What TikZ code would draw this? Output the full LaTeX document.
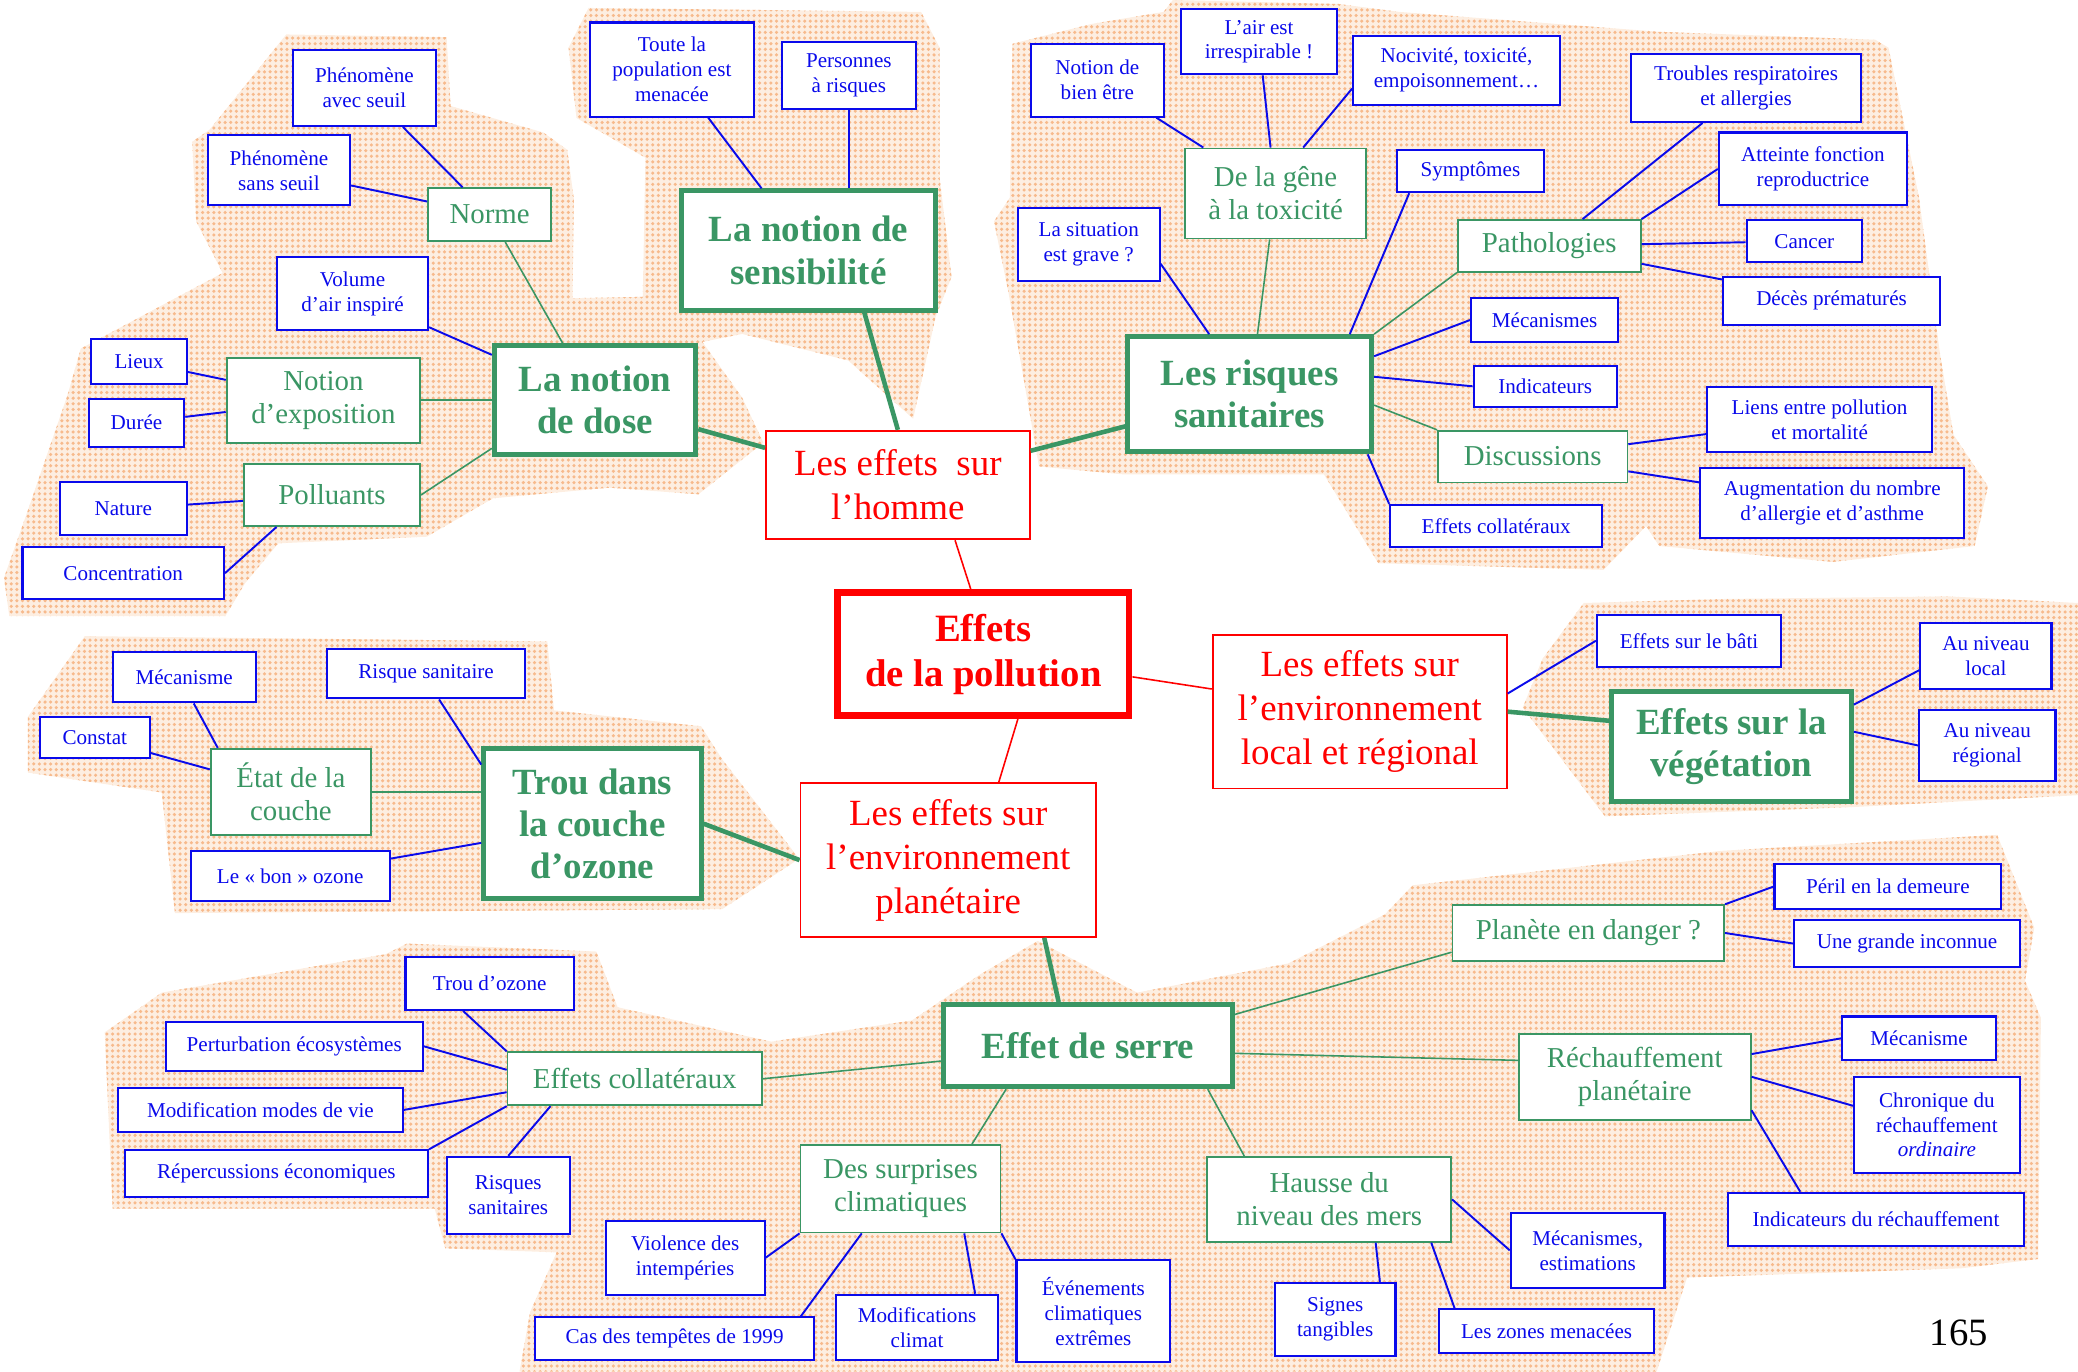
\documentclass[tikz,border=0pt]{standalone}
\usepackage{fontspec}
\setmainfont{Liberation Serif}
\usetikzlibrary{patterns}

\definecolor{bluec}{RGB}{10,10,235}
\definecolor{greenc}{RGB}{58,150,100}
\definecolor{redc}{RGB}{255,0,0}
\definecolor{bgpeach}{RGB}{253,238,225}
\definecolor{dotorange}{RGB}{247,186,140}

\pgfdeclarepatternformonly{peachdots}{\pgfqpoint{-0.8pt}{-0.8pt}}{\pgfqpoint{0.8pt}{0.8pt}}{\pgfqpoint{1.6pt}{1.6pt}}{%
  \pgfpathcircle{\pgfqpoint{0pt}{0pt}}{0.5pt}\pgfusepath{fill}}

\tikzset{
  sz/.style 2 args={minimum width=#1*0.01325cm, minimum height=#2*0.01325cm},
  leaf/.style={draw=bluec, text=bluec, fill=white, line width=0.6pt, inner sep=0pt, align=center, font=\fontsize{6}{7.1}\selectfont},
  topic/.style={draw=greenc, text=greenc, fill=white, line width=0.5pt, inner sep=0pt, align=center, font=\fontsize{8.2}{9.4}\selectfont},
  theme/.style={draw=greenc, text=greenc, fill=white, line width=1.4pt, inner sep=0pt, align=center, font=\bfseries\fontsize{10.5}{12}\selectfont},
  branch/.style={draw=redc, text=redc, fill=white, line width=0.5pt, inner sep=0pt, align=center, font=\fontsize{10.5}{12.5}\selectfont},
  rootbox/.style={draw=redc, text=redc, fill=white, line width=1.9pt, inner sep=0pt, align=center, font=\bfseries\fontsize{11}{12.8}\selectfont},
  blueln/.style={draw=bluec, line width=0.55pt},
  greenln/.style={draw=greenc, line width=0.45pt},
  greenfat/.style={draw=greenc, line width=1.3pt},
  redln/.style={draw=redc, line width=0.45pt},
  blob/.style={preaction={fill=bgpeach}, pattern=peachdots, pattern color=dotorange}
}

\begin{document}
\begin{tikzpicture}[x=0.01325cm, y=-0.01325cm]
  \useasboundingbox (0,0) rectangle (1568,1035);

  % background patches
  \path[blob] (216,26) -- (337,28) -- (340,80) -- (410,100) -- (428,113) -- (433,150) -- (432,225)
    -- (485,224) -- (487,119) -- (435,89) -- (429,36) -- (444,6) -- (695,9) -- (709,36) -- (709,134)
    -- (718,209) -- (706,239) -- (689,316) -- (640,272) -- (560,252) -- (530,258) -- (560,300)
    -- (576,334) -- (527,373) -- (460,368) -- (372,376) -- (322,405) -- (210,410) -- (185,440)
    -- (170,465) -- (7,465) -- (3,436) -- (20,388) -- (51,298) -- (61,263) -- (168,206) -- (148,167)
    -- (145,107) -- (158,98) -- cycle;
  \path[blob] (764,33) -- (824,18) -- (878,9) -- (885,0) -- (1010,3) -- (1056,9) -- (1252,24) -- (1415,30)
    -- (1425,36) -- (1448,149) -- (1464,268) -- (1474,328) -- (1500,367) -- (1490,412) -- (1383,424)
    -- (1252,412) -- (1242,397) -- (1210,430) -- (1040,425) -- (999,358) -- (848,358) -- (784,352)
    -- (761,221) -- (750,167) -- (762,149) -- cycle;
  \path[blob] (1164,497) -- (1195,455) -- (1300,452) -- (1470,450) -- (1568,455) -- (1568,600)
    -- (1398,609) -- (1211,616) -- (1149,534) -- cycle;
  \path[blob] (64,480) -- (413,484) -- (418,536) -- (529,548) -- (545,573) -- (603,648) -- (545,686)
    -- (132,689) -- (122,598) -- (21,583) -- (21,541) -- cycle;
  \path[blob] (79,779) -- (122,749) -- (291,720) -- (307,712) -- (450,718) -- (466,760) -- (582,786)
    -- (688,770) -- (740,735) -- (783,710) -- (858,749) -- (972,727) -- (1045,690) -- (1066,668)
    -- (1299,642) -- (1507,630) -- (1535,700) -- (1528,740) -- (1540,768) -- (1538,950) -- (1480,957)
    -- (1273,964) -- (1250,1035) -- (392,1035) -- (400,990) -- (420,945) -- (336,942) -- (328,912)
    -- (85,912) -- cycle;

  % dose
  \node[leaf, sz={108}{57}] (phenA) at (275,66.5) {Phénomène\\avec seuil};
  \node[leaf, sz={107}{53}] (phenS) at (210.5,128.5) {Phénomène\\sans seuil};
  \node[topic, sz={93}{40}] (norme) at (369.5,162) {Norme};
  \node[leaf, sz={114}{55}] (volume) at (266,221.5) {Volume\\d’air inspiré};
  \node[leaf, sz={72}{34}] (lieux) at (105,273) {Lieux};
  \node[leaf, sz={72}{36}] (duree) at (103,319) {Durée};
  \node[topic, sz={146}{64}] (expo) at (244,302) {Notion\\d’exposition};
  \node[leaf, sz={96}{40}] (nature) at (93,384) {Nature};
  \node[topic, sz={133}{47}] (polluants) at (250.5,373.5) {Polluants};
  \node[leaf, sz={152}{39}] (concentration) at (93,432.5) {Concentration};
  \node[theme, sz={152}{82}] (dose) at (449,302) {La notion\\de dose};

  % sensibilite
  \node[leaf, sz={124}{71}] (toute) at (507,52.5) {Toute la\\population est\\menacée};
  \node[leaf, sz={101}{50}] (personnes) at (640.5,57) {Personnes\\à risques};
  \node[theme, sz={192}{90}] (sensib) at (610,189) {La notion de\\sensibilité};

  % centre
  \node[branch, sz={199}{82}] (homme) at (677.5,366) {Les effets~ sur\\l’homme};
  \node[rootbox, sz={220}{93}] (pollution) at (742,493.5) {Effets\\de la pollution};
  \node[branch, sz={222}{116}] (local) at (1026,537) {Les effets sur\\l’environnement\\local et régional};
  \node[branch, sz={223}{116}] (planetaire) at (715.5,649) {Les effets sur\\l’environnement\\planétaire};

  % risques sanitaires
  \node[leaf, sz={100}{55}] (bienetre) at (828,60.5) {Notion de\\bien être};
  \node[leaf, sz={118}{49}] (air) at (950,31.5) {L’air est\\irrespirable !};
  \node[leaf, sz={156}{52}] (nocivite) at (1099,53) {Nocivité, toxicité,\\empoisonnement…};
  \node[topic, sz={137}{68}] (gene) at (962.5,146) {De la gêne\\à la toxicité};
  \node[leaf, sz={107}{55}] (situation) at (821.5,184.5) {La situation\\est grave ?};
  \node[leaf, sz={111}{32}] (symptomes) at (1109.5,129) {Symptômes};
  \node[leaf, sz={173}{51}] (troubles) at (1317.5,66.5) {Troubles respiratoires\\et allergies};
  \node[leaf, sz={142}{55}] (atteinte) at (1368,127.5) {Atteinte fonction\\reproductrice};
  \node[topic, sz={138}{39}] (patho) at (1169,185.5) {Pathologies};
  \node[leaf, sz={87}{32}] (cancer) at (1361.5,182) {Cancer};
  \node[leaf, sz={164}{36}] (deces) at (1382,227) {Décès prématurés};
  \node[leaf, sz={111}{33}] (mecanismes) at (1165.5,241.5) {Mécanismes};
  \node[leaf, sz={108}{31}] (indicateurs) at (1166,291.5) {Indicateurs};
  \node[theme, sz={184}{87}] (risques) at (943,297.5) {Les risques\\sanitaires};
  \node[topic, sz={143}{39}] (discussions) at (1156.5,344.5) {Discussions};
  \node[leaf, sz={170}{49}] (liens) at (1373,316.5) {Liens entre pollution\\et mortalité};
  \node[leaf, sz={199}{53}] (augmentation) at (1382.5,379.5) {Augmentation du nombre\\d’allergie et d’asthme};
  \node[leaf, sz={160}{32}] (collatR) at (1129,397) {Effets collatéraux};

  % vegetation
  \node[theme, sz={181}{83}] (vegetation) at (1306.5,563.5) {Effets sur la\\végétation};
  \node[leaf, sz={139}{39}] (bati) at (1274.5,483.5) {Effets sur le bâti};
  \node[leaf, sz={99}{50}] (auLocal) at (1498.5,495) {Au niveau\\local};
  \node[leaf, sz={103}{53}] (auRegional) at (1499.5,562.5) {Au niveau\\régional};

  % ozone
  \node[leaf, sz={108}{38}] (mecanismeO) at (139,511) {Mécanisme};
  \node[leaf, sz={83}{31}] (constat) at (71.5,556.5) {Constat};
  \node[topic, sz={121}{65}] (etat) at (219.5,597.5) {État de la\\couche};
  \node[leaf, sz={149}{37}] (risqueS) at (321.5,508.5) {Risque sanitaire};
  \node[theme, sz={164}{113}] (trou) at (447,621.5) {Trou dans\\la couche\\d’ozone};
  \node[leaf, sz={150}{38}] (bon) at (219,661) {Le «~bon~» ozone};

  % effet de serre
  \node[theme, sz={218}{62}] (serre) at (821,789) {Effet de serre};
  \node[topic, sz={205}{42}] (planete) at (1198.5,704) {Planète en danger ?};
  \node[leaf, sz={171}{34}] (peril) at (1424.5,669) {Péril en la demeure};
  \node[leaf, sz={170}{36}] (inconnue) at (1439,712) {Une grande inconnue};
  \node[topic, sz={175}{65}] (rechauff) at (1233.5,812.5) {Réchauffement\\planétaire};
  \node[leaf, sz={116}{33}] (mecanismeB) at (1448,783.5) {Mécanisme};
  \node[leaf, sz={125}{72}, font=\fontsize{6}{7}\selectfont] (chronique) at (1461.5,849) {Chronique du\\réchauffement\\\textit{ordinaire}};
  \node[leaf, sz={223}{40}] (indicRech) at (1415.5,920) {Indicateurs du réchauffement};
  \node[topic, sz={184}{64}] (hausse) at (1003,905) {Hausse du\\niveau des mers};
  \node[leaf, sz={116}{57}] (mecEstim) at (1198,943.5) {Mécanismes,\\estimations};
  \node[leaf, sz={91}{55}] (signes) at (1007.5,995.5) {Signes\\tangibles};
  \node[leaf, sz={162}{33}] (zones) at (1167,1004.5) {Les zones menacées};
  \node[topic, sz={151}{66}] (surprises) at (679.5,897) {Des surprises\\climatiques};
  \node[leaf, sz={120}{56}] (violence) at (517,949) {Violence des\\intempéries};
  \node[leaf, sz={210}{32}] (tempetes) at (509,1010) {Cas des tempêtes de 1999};
  \node[leaf, sz={122}{49}] (modifs) at (692,1001.5) {Modifications\\climat};
  \node[leaf, sz={116}{77}] (evenements) at (825,989.5) {Événements\\climatiques\\extrêmes};
  \node[topic, sz={192}{40}] (collatB) at (479,814) {Effets collatéraux};
  \node[leaf, sz={127}{40}] (trouOz) at (369.5,742) {Trou d’ozone};
  \node[leaf, sz={194}{37}] (perturb) at (222,789.5) {Perturbation écosystèmes};
  \node[leaf, sz={215}{33}] (modesVie) at (196.5,837.5) {Modification modes de vie};
  \node[leaf, sz={229}{35}] (repercussions) at (208.5,885.5) {Répercussions économiques};
  \node[leaf, sz={93}{58}] (risquesSan) at (383.5,902) {Risques\\sanitaires};

  \node[font=\fontsize{11}{13}\selectfont] (pagenum) at (1478,1006) {165};

  % links, dose
  \draw[blueln] (phenA) -- (norme);
  \draw[blueln] (phenS) -- (norme);
  \draw[greenln] (norme) -- (dose);
  \draw[blueln] (volume) -- (dose);
  \draw[blueln] (lieux) -- (expo);
  \draw[blueln] (duree) -- (expo);
  \draw[greenln] (expo) -- (dose);
  \draw[greenln] (polluants.east) -- (dose.-155);
  \draw[blueln] (nature) -- (polluants);
  \draw[blueln] (concentration.east) -- (polluants.-150);
  \draw[greenfat] (dose) -- (homme);
  % links, sensibilite
  \draw[blueln] (toute) -- (sensib);
  \draw[blueln] (personnes.south) -- (personnes.south |- sensib.north);
  \draw[greenfat] (sensib.-48) -- (homme.north);
  % links, centre
  \draw[redln] (homme.-44) -- (pollution.101);
  \draw[redln] (pollution.-62) -- (planetaire.57);
  \draw[redln] (pollution) -- (local);
  \draw[greenfat] (homme) -- (risques);
  % links, risques sanitaires
  \draw[blueln] (bienetre) -- (gene);
  \draw[blueln] (air) -- (gene);
  \draw[blueln] (nocivite.-170) -- (gene.59);
  \draw[greenln] (gene) -- (risques);
  \draw[blueln] (situation.-15) -- (risques.124);
  \draw[blueln] (symptomes.-160) -- (risques.31);
  \draw[greenln] (patho.south west) -- (risques.north east);
  \draw[blueln] (mecanismes.west) -- (risques.17);
  \draw[blueln] (indicateurs.west) -- (risques.8);
  \draw[greenln] (discussions.north west) -- (risques.-5);
  \draw[blueln] (collatR.north west) -- (risques.-27);
  \draw[blueln] (troubles) -- (patho);
  \draw[blueln] (atteinte.west) -- (patho.north east);
  \draw[blueln] (patho) -- (cancer);
  \draw[blueln] (patho) -- (deces);
  \draw[blueln] (discussions) -- (liens);
  \draw[blueln] (discussions) -- (augmentation);
  % links, vegetation
  \draw[blueln] (local.7) -- (bati.west);
  \draw[greenfat] (local.east) -- (vegetation.168);
  \draw[blueln] (vegetation.19) -- (auLocal.-168);
  \draw[blueln] (vegetation.7) -- (auRegional.west);
  % links, ozone
  \draw[blueln] (mecanismeO.-70) -- (etat.149);
  \draw[blueln] (constat) -- (etat);
  \draw[greenln] (etat.east) -- (etat.east -| trou.west);
  \draw[blueln] (risqueS.-63) -- (trou.152);
  \draw[blueln] (bon) -- (trou);
  \draw[greenfat] (trou.east) -- (planetaire.west);
  % links, effet de serre
  \draw[greenfat] (planetaire.-39) -- (serre.124);
  \draw[greenln] (serre.12) -- (planete.-172);
  \draw[greenln] (serre.-3) -- (rechauff.172);
  \draw[greenln] (serre.-20) -- (hausse.153);
  \draw[greenln] (serre.-152) -- (surprises.32);
  \draw[greenln] (serre.-174) -- (collatB.east);
  \draw[blueln] (planete.north east) -- (peril.west);
  \draw[blueln] (planete.east) -- (inconnue.west);
  \draw[blueln] (rechauff.11) -- (mecanismeB.west);
  \draw[blueln] (rechauff.east) -- (chronique.167);
  \draw[blueln] (rechauff.-16) -- (indicRech.160);
  \draw[blueln] (hausse.east) -- (mecEstim.west);
  \draw[blueln] (hausse.-43) -- (signes.40);
  \draw[blueln] (hausse.-23) -- (zones.166);
  \draw[blueln] (surprises.south west) -- (violence.east);
  \draw[blueln] (surprises.-131) -- (tempetes.10);
  \draw[blueln] (surprises.-35) -- (modifs.30);
  \draw[blueln] (surprises.south east) -- (evenements.north west);
  \draw[blueln] (collatB.north west) -- (trouOz.-134);
  \draw[blueln] (collatB.176) -- (perturb.east);
  \draw[blueln] (collatB.-174) -- (modesVie.east);
  \draw[blueln] (collatB.south west) -- (repercussions.north east);
  \draw[blueln] (collatB.-162) -- (risquesSan.north);
\end{tikzpicture}
\end{document}
